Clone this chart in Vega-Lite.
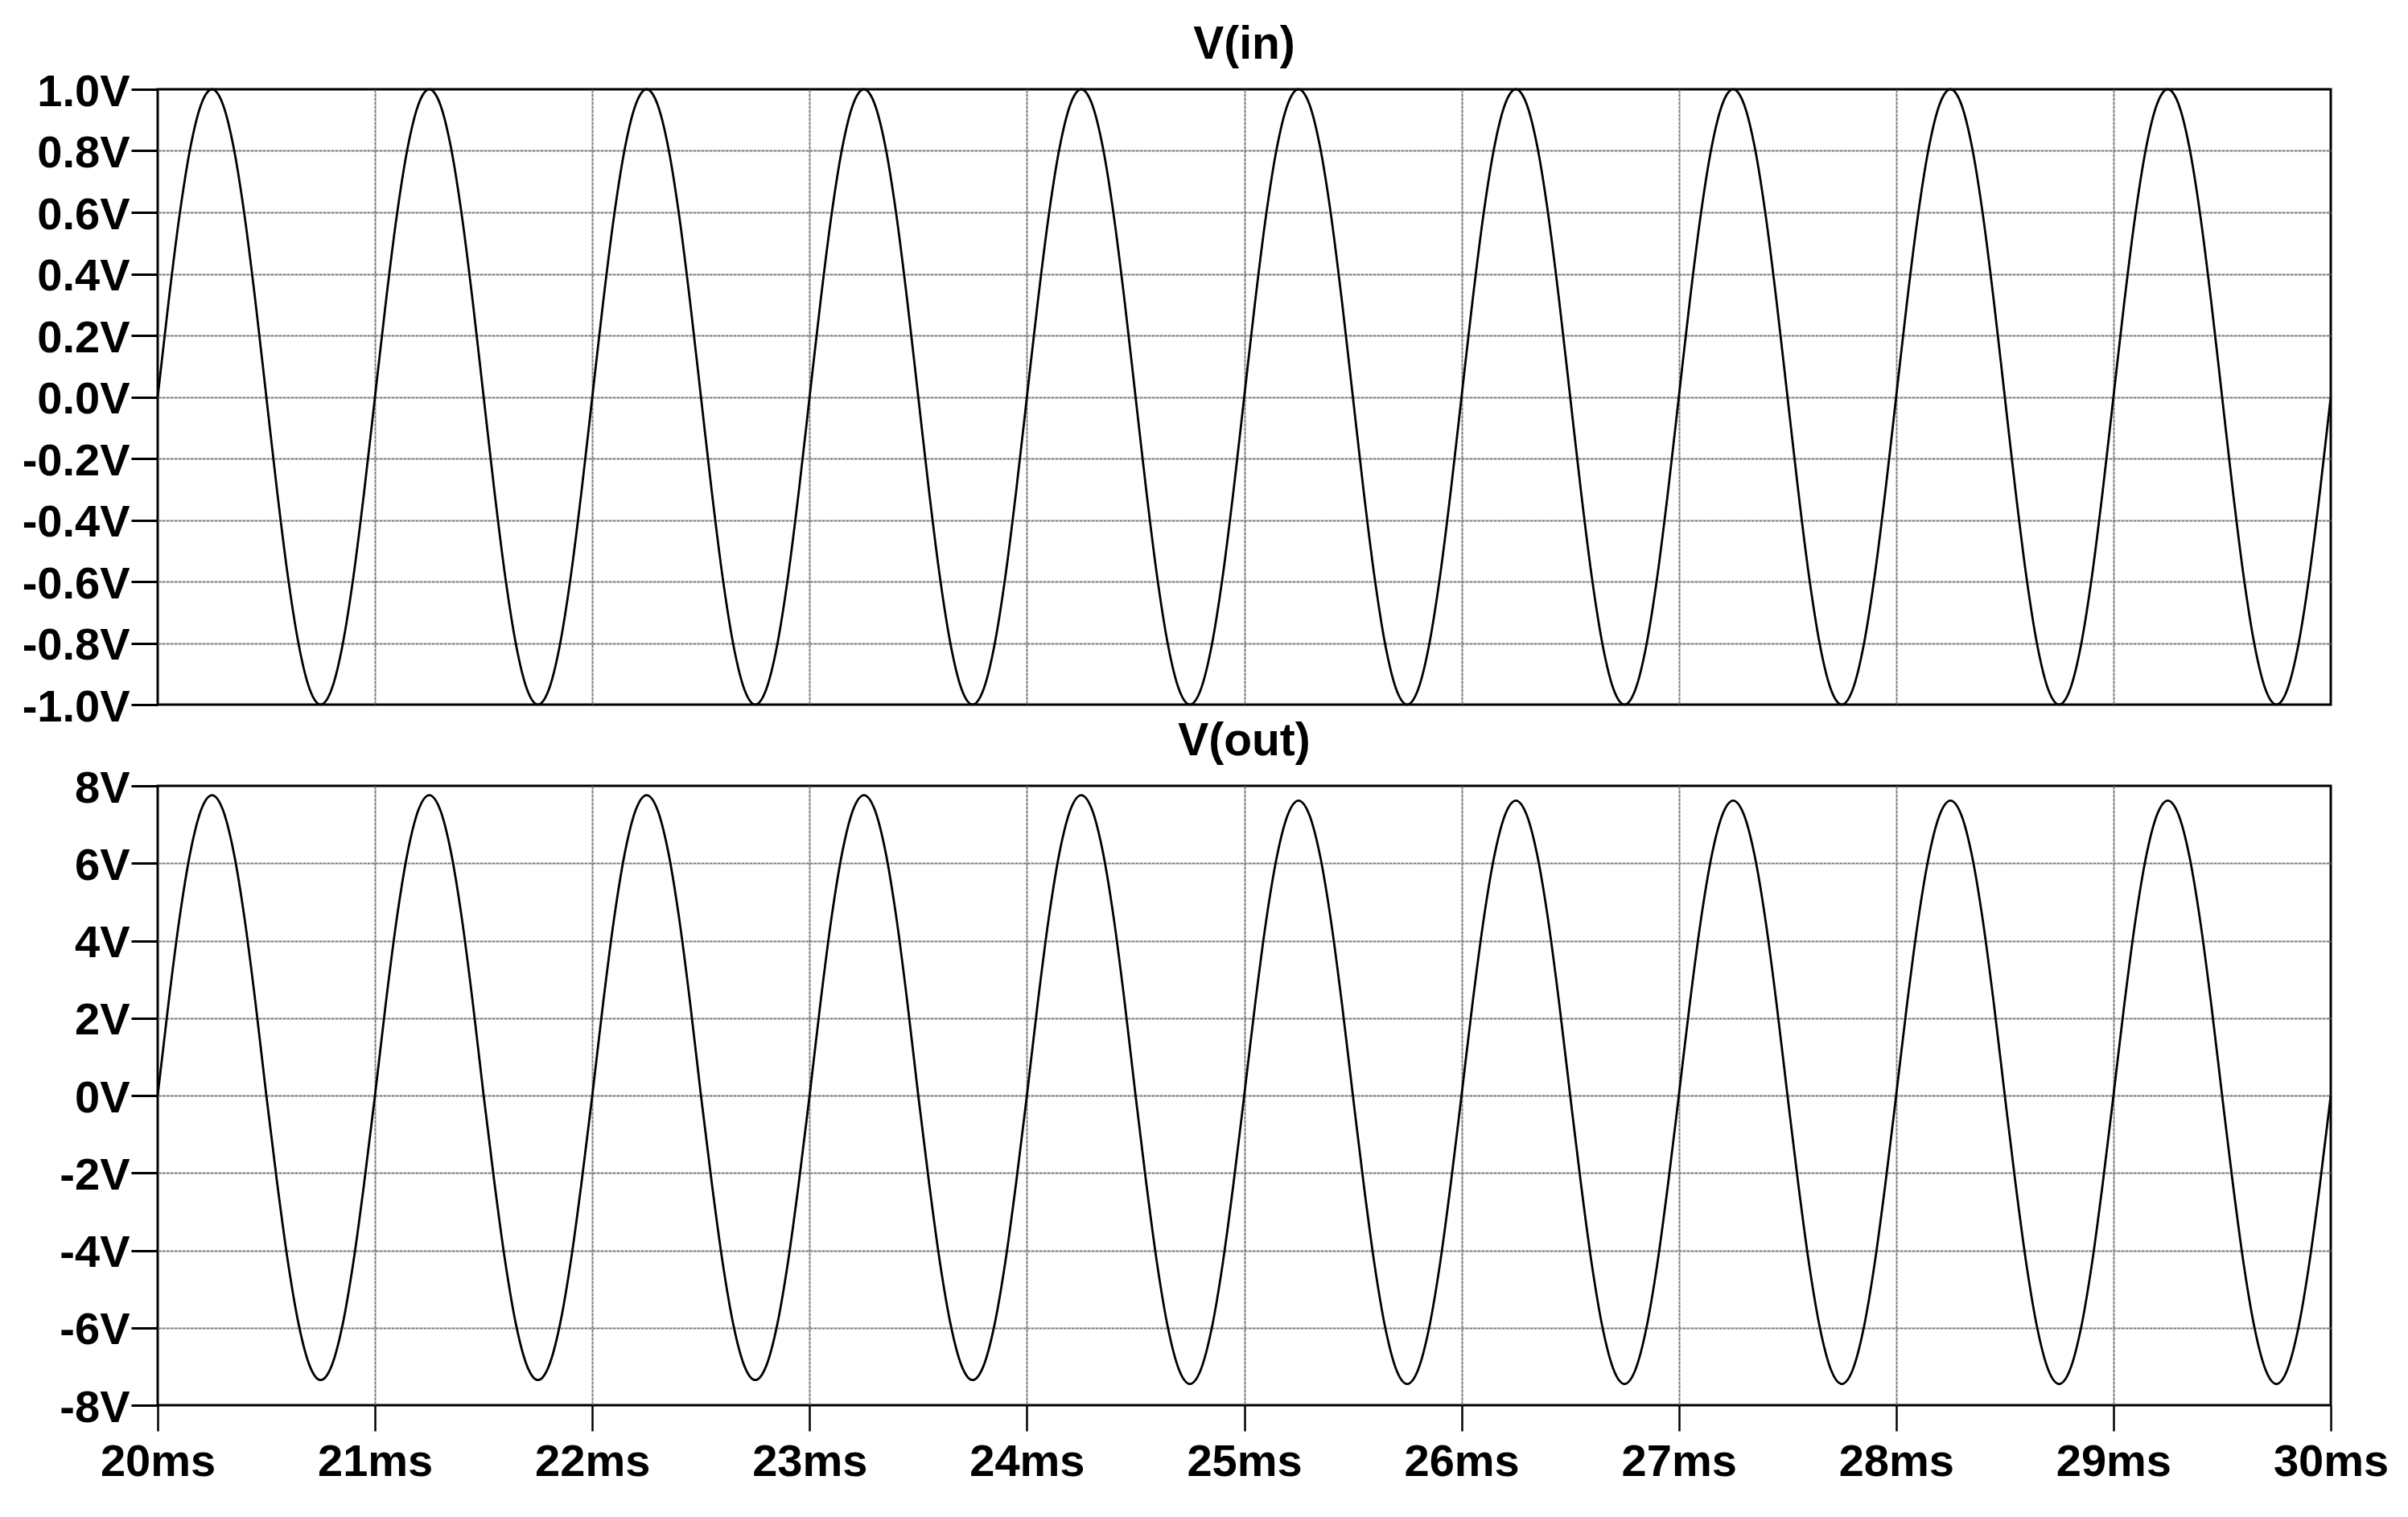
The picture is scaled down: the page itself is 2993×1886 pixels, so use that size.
{
  "$schema": "https://vega.github.io/schema/vega-lite/v6.json",
  "background": "white",
  "padding": {"left": 25, "top": 25, "right": 26, "bottom": 10},
  "bounds": "flush",
  "spacing": 101,
  "config": {
    "font": "Liberation Sans",
    "view": {"stroke": "black", "strokeWidth": 3},
    "axis": {
      "labelFont": "Liberation Sans",
      "labelFontSize": 56,
      "labelFontWeight": "bold",
      "labelColor": "black",
      "labelFlush": false,
      "labelOverlap": false,
      "labelBound": false,
      "tickColor": "black",
      "tickWidth": 3,
      "tickSize": 33,
      "domain": false,
      "gridColor": "#7a7a7a",
      "gridWidth": 2,
      "gridDash": [4, 1]
    },
    "title": {
      "font": "Liberation Sans",
      "fontSize": 57,
      "fontWeight": "bold",
      "color": "black",
      "anchor": "middle",
      "frame": "group",
      "baseline": "alphabetic",
      "offset": 1
    }
  },
  "data": {
    "values": [
      {"t": 20.00, "vin": 0, "vout": 0},
      {"t": 20.05, "vin": 0.309, "vout": 2.398},
      {"t": 20.10, "vin": 0.588, "vout": 4.563},
      {"t": 20.15, "vin": 0.809, "vout": 6.278},
      {"t": 20.20, "vin": 0.951, "vout": 7.38},
      {"t": 20.25, "vin": 1, "vout": 7.76},
      {"t": 20.30, "vin": 0.951, "vout": 7.38},
      {"t": 20.35, "vin": 0.809, "vout": 6.278},
      {"t": 20.40, "vin": 0.588, "vout": 4.563},
      {"t": 20.45, "vin": 0.309, "vout": 2.398},
      {"t": 20.50, "vin": 0, "vout": 0},
      {"t": 20.55, "vin": -0.309, "vout": -2.271},
      {"t": 20.60, "vin": -0.588, "vout": -4.322},
      {"t": 20.65, "vin": -0.809, "vout": -5.946},
      {"t": 20.70, "vin": -0.951, "vout": -6.99},
      {"t": 20.75, "vin": -1, "vout": -7.35},
      {"t": 20.80, "vin": -0.951, "vout": -6.99},
      {"t": 20.85, "vin": -0.809, "vout": -5.946},
      {"t": 20.90, "vin": -0.588, "vout": -4.322},
      {"t": 20.95, "vin": -0.309, "vout": -2.271},
      {"t": 21.00, "vin": 0, "vout": 0},
      {"t": 21.05, "vin": 0.309, "vout": 2.398},
      {"t": 21.10, "vin": 0.588, "vout": 4.563},
      {"t": 21.15, "vin": 0.809, "vout": 6.278},
      {"t": 21.20, "vin": 0.951, "vout": 7.38},
      {"t": 21.25, "vin": 1, "vout": 7.76},
      {"t": 21.30, "vin": 0.951, "vout": 7.38},
      {"t": 21.35, "vin": 0.809, "vout": 6.278},
      {"t": 21.40, "vin": 0.588, "vout": 4.563},
      {"t": 21.45, "vin": 0.309, "vout": 2.398},
      {"t": 21.50, "vin": 0, "vout": 0},
      {"t": 21.55, "vin": -0.309, "vout": -2.271},
      {"t": 21.60, "vin": -0.588, "vout": -4.322},
      {"t": 21.65, "vin": -0.809, "vout": -5.946},
      {"t": 21.70, "vin": -0.951, "vout": -6.99},
      {"t": 21.75, "vin": -1, "vout": -7.35},
      {"t": 21.80, "vin": -0.951, "vout": -6.99},
      {"t": 21.85, "vin": -0.809, "vout": -5.946},
      {"t": 21.90, "vin": -0.588, "vout": -4.322},
      {"t": 21.95, "vin": -0.309, "vout": -2.271},
      {"t": 22.00, "vin": 0, "vout": 0},
      {"t": 22.05, "vin": 0.309, "vout": 2.398},
      {"t": 22.10, "vin": 0.588, "vout": 4.563},
      {"t": 22.15, "vin": 0.809, "vout": 6.278},
      {"t": 22.20, "vin": 0.951, "vout": 7.38},
      {"t": 22.25, "vin": 1, "vout": 7.76},
      {"t": 22.30, "vin": 0.951, "vout": 7.38},
      {"t": 22.35, "vin": 0.809, "vout": 6.278},
      {"t": 22.40, "vin": 0.588, "vout": 4.563},
      {"t": 22.45, "vin": 0.309, "vout": 2.398},
      {"t": 22.50, "vin": 0, "vout": 0},
      {"t": 22.55, "vin": -0.309, "vout": -2.271},
      {"t": 22.60, "vin": -0.588, "vout": -4.322},
      {"t": 22.65, "vin": -0.809, "vout": -5.946},
      {"t": 22.70, "vin": -0.951, "vout": -6.99},
      {"t": 22.75, "vin": -1, "vout": -7.35},
      {"t": 22.80, "vin": -0.951, "vout": -6.99},
      {"t": 22.85, "vin": -0.809, "vout": -5.946},
      {"t": 22.90, "vin": -0.588, "vout": -4.322},
      {"t": 22.95, "vin": -0.309, "vout": -2.271},
      {"t": 23.00, "vin": 0, "vout": 0},
      {"t": 23.05, "vin": 0.309, "vout": 2.398},
      {"t": 23.10, "vin": 0.588, "vout": 4.563},
      {"t": 23.15, "vin": 0.809, "vout": 6.278},
      {"t": 23.20, "vin": 0.951, "vout": 7.38},
      {"t": 23.25, "vin": 1, "vout": 7.76},
      {"t": 23.30, "vin": 0.951, "vout": 7.38},
      {"t": 23.35, "vin": 0.809, "vout": 6.278},
      {"t": 23.40, "vin": 0.588, "vout": 4.563},
      {"t": 23.45, "vin": 0.309, "vout": 2.398},
      {"t": 23.50, "vin": 0, "vout": 0},
      {"t": 23.55, "vin": -0.309, "vout": -2.271},
      {"t": 23.60, "vin": -0.588, "vout": -4.322},
      {"t": 23.65, "vin": -0.809, "vout": -5.946},
      {"t": 23.70, "vin": -0.951, "vout": -6.99},
      {"t": 23.75, "vin": -1, "vout": -7.35},
      {"t": 23.80, "vin": -0.951, "vout": -6.99},
      {"t": 23.85, "vin": -0.809, "vout": -5.946},
      {"t": 23.90, "vin": -0.588, "vout": -4.322},
      {"t": 23.95, "vin": -0.309, "vout": -2.271},
      {"t": 24.00, "vin": 0, "vout": 0},
      {"t": 24.05, "vin": 0.309, "vout": 2.398},
      {"t": 24.10, "vin": 0.588, "vout": 4.563},
      {"t": 24.15, "vin": 0.809, "vout": 6.278},
      {"t": 24.20, "vin": 0.951, "vout": 7.38},
      {"t": 24.25, "vin": 1, "vout": 7.76},
      {"t": 24.30, "vin": 0.951, "vout": 7.38},
      {"t": 24.35, "vin": 0.809, "vout": 6.278},
      {"t": 24.40, "vin": 0.588, "vout": 4.563},
      {"t": 24.45, "vin": 0.309, "vout": 2.398},
      {"t": 24.50, "vin": 0, "vout": 0},
      {"t": 24.55, "vin": -0.309, "vout": -2.302},
      {"t": 24.60, "vin": -0.588, "vout": -4.381},
      {"t": 24.65, "vin": -0.809, "vout": -6.027},
      {"t": 24.70, "vin": -0.951, "vout": -7.085},
      {"t": 24.75, "vin": -1, "vout": -7.45},
      {"t": 24.80, "vin": -0.951, "vout": -7.085},
      {"t": 24.85, "vin": -0.809, "vout": -6.027},
      {"t": 24.90, "vin": -0.588, "vout": -4.381},
      {"t": 24.95, "vin": -0.309, "vout": -2.302},
      {"t": 25.00, "vin": 0, "vout": 0},
      {"t": 25.05, "vin": 0.309, "vout": 2.355},
      {"t": 25.10, "vin": 0.588, "vout": 4.481},
      {"t": 25.15, "vin": 0.809, "vout": 6.165},
      {"t": 25.20, "vin": 0.951, "vout": 7.247},
      {"t": 25.25, "vin": 1, "vout": 7.62},
      {"t": 25.30, "vin": 0.951, "vout": 7.247},
      {"t": 25.35, "vin": 0.809, "vout": 6.165},
      {"t": 25.40, "vin": 0.588, "vout": 4.481},
      {"t": 25.45, "vin": 0.309, "vout": 2.355},
      {"t": 25.50, "vin": 0, "vout": 0},
      {"t": 25.55, "vin": -0.309, "vout": -2.302},
      {"t": 25.60, "vin": -0.588, "vout": -4.381},
      {"t": 25.65, "vin": -0.809, "vout": -6.027},
      {"t": 25.70, "vin": -0.951, "vout": -7.085},
      {"t": 25.75, "vin": -1, "vout": -7.45},
      {"t": 25.80, "vin": -0.951, "vout": -7.085},
      {"t": 25.85, "vin": -0.809, "vout": -6.027},
      {"t": 25.90, "vin": -0.588, "vout": -4.381},
      {"t": 25.95, "vin": -0.309, "vout": -2.302},
      {"t": 26.00, "vin": 0, "vout": 0},
      {"t": 26.05, "vin": 0.309, "vout": 2.355},
      {"t": 26.10, "vin": 0.588, "vout": 4.481},
      {"t": 26.15, "vin": 0.809, "vout": 6.165},
      {"t": 26.20, "vin": 0.951, "vout": 7.247},
      {"t": 26.25, "vin": 1, "vout": 7.62},
      {"t": 26.30, "vin": 0.951, "vout": 7.247},
      {"t": 26.35, "vin": 0.809, "vout": 6.165},
      {"t": 26.40, "vin": 0.588, "vout": 4.481},
      {"t": 26.45, "vin": 0.309, "vout": 2.355},
      {"t": 26.50, "vin": 0, "vout": 0},
      {"t": 26.55, "vin": -0.309, "vout": -2.302},
      {"t": 26.60, "vin": -0.588, "vout": -4.381},
      {"t": 26.65, "vin": -0.809, "vout": -6.027},
      {"t": 26.70, "vin": -0.951, "vout": -7.085},
      {"t": 26.75, "vin": -1, "vout": -7.45},
      {"t": 26.80, "vin": -0.951, "vout": -7.085},
      {"t": 26.85, "vin": -0.809, "vout": -6.027},
      {"t": 26.90, "vin": -0.588, "vout": -4.381},
      {"t": 26.95, "vin": -0.309, "vout": -2.302},
      {"t": 27.00, "vin": 0, "vout": 0},
      {"t": 27.05, "vin": 0.309, "vout": 2.355},
      {"t": 27.10, "vin": 0.588, "vout": 4.481},
      {"t": 27.15, "vin": 0.809, "vout": 6.165},
      {"t": 27.20, "vin": 0.951, "vout": 7.247},
      {"t": 27.25, "vin": 1, "vout": 7.62},
      {"t": 27.30, "vin": 0.951, "vout": 7.247},
      {"t": 27.35, "vin": 0.809, "vout": 6.165},
      {"t": 27.40, "vin": 0.588, "vout": 4.481},
      {"t": 27.45, "vin": 0.309, "vout": 2.355},
      {"t": 27.50, "vin": 0, "vout": 0},
      {"t": 27.55, "vin": -0.309, "vout": -2.302},
      {"t": 27.60, "vin": -0.588, "vout": -4.381},
      {"t": 27.65, "vin": -0.809, "vout": -6.027},
      {"t": 27.70, "vin": -0.951, "vout": -7.085},
      {"t": 27.75, "vin": -1, "vout": -7.45},
      {"t": 27.80, "vin": -0.951, "vout": -7.085},
      {"t": 27.85, "vin": -0.809, "vout": -6.027},
      {"t": 27.90, "vin": -0.588, "vout": -4.381},
      {"t": 27.95, "vin": -0.309, "vout": -2.302},
      {"t": 28.00, "vin": 0, "vout": 0},
      {"t": 28.05, "vin": 0.309, "vout": 2.355},
      {"t": 28.10, "vin": 0.588, "vout": 4.481},
      {"t": 28.15, "vin": 0.809, "vout": 6.165},
      {"t": 28.20, "vin": 0.951, "vout": 7.247},
      {"t": 28.25, "vin": 1, "vout": 7.62},
      {"t": 28.30, "vin": 0.951, "vout": 7.247},
      {"t": 28.35, "vin": 0.809, "vout": 6.165},
      {"t": 28.40, "vin": 0.588, "vout": 4.481},
      {"t": 28.45, "vin": 0.309, "vout": 2.355},
      {"t": 28.50, "vin": 0, "vout": 0},
      {"t": 28.55, "vin": -0.309, "vout": -2.302},
      {"t": 28.60, "vin": -0.588, "vout": -4.381},
      {"t": 28.65, "vin": -0.809, "vout": -6.027},
      {"t": 28.70, "vin": -0.951, "vout": -7.085},
      {"t": 28.75, "vin": -1, "vout": -7.45},
      {"t": 28.80, "vin": -0.951, "vout": -7.085},
      {"t": 28.85, "vin": -0.809, "vout": -6.027},
      {"t": 28.90, "vin": -0.588, "vout": -4.381},
      {"t": 28.95, "vin": -0.309, "vout": -2.302},
      {"t": 29.00, "vin": 0, "vout": 0},
      {"t": 29.05, "vin": 0.309, "vout": 2.355},
      {"t": 29.10, "vin": 0.588, "vout": 4.481},
      {"t": 29.15, "vin": 0.809, "vout": 6.165},
      {"t": 29.20, "vin": 0.951, "vout": 7.247},
      {"t": 29.25, "vin": 1, "vout": 7.62},
      {"t": 29.30, "vin": 0.951, "vout": 7.247},
      {"t": 29.35, "vin": 0.809, "vout": 6.165},
      {"t": 29.40, "vin": 0.588, "vout": 4.481},
      {"t": 29.45, "vin": 0.309, "vout": 2.355},
      {"t": 29.50, "vin": 0, "vout": 0},
      {"t": 29.55, "vin": -0.309, "vout": -2.302},
      {"t": 29.60, "vin": -0.588, "vout": -4.381},
      {"t": 29.65, "vin": -0.809, "vout": -6.027},
      {"t": 29.70, "vin": -0.951, "vout": -7.085},
      {"t": 29.75, "vin": -1, "vout": -7.45},
      {"t": 29.80, "vin": -0.951, "vout": -7.085},
      {"t": 29.85, "vin": -0.809, "vout": -6.027},
      {"t": 29.90, "vin": -0.588, "vout": -4.381},
      {"t": 29.95, "vin": -0.309, "vout": -2.302},
      {"t": 30.00, "vin": 0, "vout": 0}
    ]
  },
  "vconcat": [
    {
      "width": 2701,
      "height": 765,
      "title": {"text": "V(in)"},
      "mark": {"type": "line", "color": "black", "strokeWidth": 2.8, "interpolate": "monotone"},
      "encoding": {
        "x": {
          "field": "t",
          "type": "quantitative",
          "title": null,
          "scale": {"domain": [20, 30], "nice": false, "zero": false},
          "axis": {
            "values": [20, 21, 22, 23, 24, 25, 26, 27, 28, 29, 30],
            "labels": false,
            "ticks": false,
            "domain": false,
            "grid": true,
            "gridOpacity": {"condition": {"test": "datum.value <= 20 || datum.value >= 30", "value": 0}, "value": 1},
            "minExtent": 0,
            "maxExtent": 0
          }
        },
        "y": {
          "field": "vin",
          "type": "quantitative",
          "title": null,
          "scale": {"domain": [-1, 1], "nice": false, "zero": false},
          "axis": {
            "values": [-1, -0.8, -0.6, -0.4, -0.2, 0, 0.2, 0.4, 0.6, 0.8, 1],
            "labelExpr": "(datum.value < 0 ? '-' : '') + format(abs(datum.value), '.1f') + 'V'",
            "labelPadding": 2,
            "labelOffset": 3,
            "grid": true,
            "gridOpacity": {"condition": {"test": "abs(datum.value) >= 0.999", "value": 0}, "value": 1}
          }
        }
      }
    },
    {
      "width": 2701,
      "height": 770,
      "title": {"text": "V(out)"},
      "mark": {"type": "line", "color": "black", "strokeWidth": 2.8, "interpolate": "monotone"},
      "encoding": {
        "x": {
          "field": "t",
          "type": "quantitative",
          "title": null,
          "scale": {"domain": [20, 30], "nice": false, "zero": false},
          "axis": {
            "values": [20, 21, 22, 23, 24, 25, 26, 27, 28, 29, 30],
            "labelExpr": "datum.value + 'ms'",
            "tickSize": 32,
            "tickWidth": 2.5,
            "labelPadding": 11,
            "grid": true,
            "gridOpacity": {"condition": {"test": "datum.value <= 20 || datum.value >= 30", "value": 0}, "value": 1}
          }
        },
        "y": {
          "field": "vout",
          "type": "quantitative",
          "title": null,
          "scale": {"domain": [-8, 8], "nice": false, "zero": false},
          "axis": {
            "values": [-8, -6, -4, -2, 0, 2, 4, 6, 8],
            "labelExpr": "(datum.value < 0 ? '-' : '') + format(abs(datum.value), 'd') + 'V'",
            "labelPadding": 2,
            "labelOffset": 3,
            "grid": true,
            "gridOpacity": {"condition": {"test": "abs(datum.value) >= 8", "value": 0}, "value": 1}
          }
        }
      }
    }
  ]
}
